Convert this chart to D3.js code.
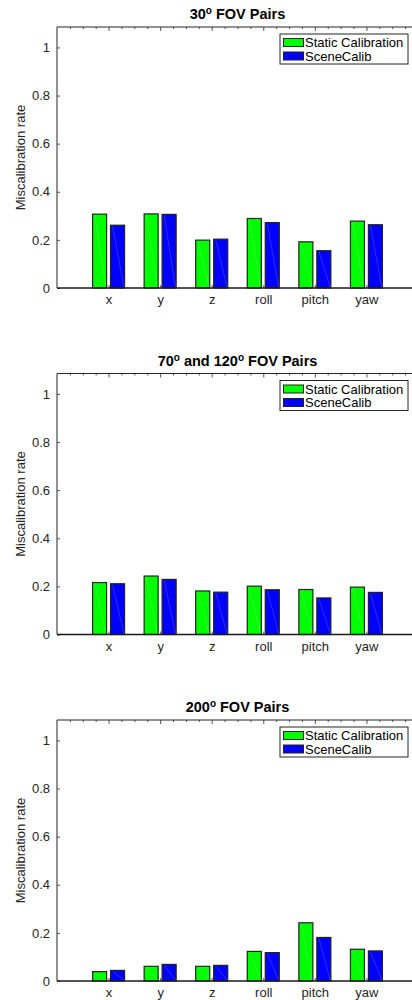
<!DOCTYPE html>
<meta charset="utf-8">
<style>
body { margin: 0; background: #fff; }
text { font-family: "Liberation Sans", Arial, sans-serif; fill: #262626; }
.title { font-weight: bold; fill: #000; }
.tick line { stroke: #555; }
</style>
<svg width="412" height="1000"></svg>
<script src="https://d3js.org/d3.v7.min.js"></script>
<script>

// categories on the x axis
var categories = ["x", "y", "z", "roll", "pitch", "yaw"];
var seriesNames = ["Static Calibration", "SceneCalib"];
var seriesColors = ["#00ff00", "#0000ff"];
var yTicks = [0, 0.2, 0.4, 0.6, 0.8, 1];

// titles: [before sup, sup, between, sup, after]
var titles = [
  ["30", "o", " FOV Pairs"],
  ["70", "o", " and 120", "o", " FOV Pairs"],
  ["200", "o", " FOV Pairs"]
];

var static30 = [0.307, 0.308, 0.199, 0.289, 0.192, 0.278];
var scene30  = [0.261, 0.306, 0.203, 0.272, 0.155, 0.263];

var static70 = [0.216, 0.243, 0.181, 0.201, 0.187, 0.197];
var scene70  = [0.211, 0.229, 0.176, 0.186, 0.152, 0.175];

var static200 = [0.039, 0.061, 0.061, 0.123, 0.242, 0.132];
var scene200  = [0.044, 0.069, 0.065, 0.118, 0.181, 0.125];

var panels = [
  { title: titles[0], values: [static30, scene30] },
  { title: titles[1], values: [static70, scene70] },
  { title: titles[2], values: [static200, scene200] }
];

var svg = d3.select("svg");
svg.append("rect").attr("width", 412).attr("height", 1000).attr("fill", "#fff");

var panelTops = [27, 373.5, 720],
    plotH = 261;

var x = d3.scaleLinear().domain([0, 7]).range([57, 418]);
var x1 = d3.scaleBand().domain(seriesNames).range([-16, 16]).paddingInner(0.22);

panels.forEach(function(p, pi) {
  var top = panelTops[pi];
  var y = d3.scaleLinear().domain([0, 1.085]).range([top + plotH, top]);
  var g = svg.append("g");

  // title
  var t = g.append("text").attr("class", "title")
      .attr("x", (x(0) + x(7)) / 2).attr("y", top - 8)
      .attr("text-anchor", "middle").style("font-size", "14.5px");
  p.title.forEach(function(s, i) {
    if (i % 2 === 1) {
      t.append("tspan").attr("dy", -5).style("font-size", "10px").text(s);
    } else {
      t.append("tspan").attr("dy", i === 0 ? 0 : 5).text(s);
    }
  });

  // bars
  var rows = categories.map(function(c, i) {
    return seriesNames.map(function(s, j) { return { cat: i + 1, series: s, j: j, v: p.values[j][i] }; });
  });
  var grp = g.selectAll(".grp").data(rows).enter().append("g")
      .attr("transform", function(d) { return "translate(" + x(d[0].cat) + ",0)"; });
  grp.selectAll("rect").data(function(d) { return d; }).enter().append("rect")
      .attr("x", function(d) { return x1(d.series); })
      .attr("width", x1.bandwidth())
      .attr("y", function(d) { return y(d.v); })
      .attr("height", function(d) { return y(0) - y(d.v); })
      .attr("fill", function(d) { return seriesColors[d.j]; })
      .attr("stroke", "#222").attr("stroke-width", 1.2);
  // faint diagonal rendering seams seen in the original
  grp.selectAll("line.seam").data(function(d) { return d; }).enter().append("line")
      .attr("class", "seam")
      .attr("x1", function(d) { return x1(d.series) + x1.bandwidth() * 0.15; })
      .attr("x2", function(d) { return x1(d.series) + x1.bandwidth() * 0.95; })
      .attr("y1", function(d) { return y(d.v) + 1; })
      .attr("y2", y(0) - 1)
      .attr("stroke", "#fff").attr("stroke-opacity", 0.3).attr("stroke-width", 0.6);

  // axes
  var yAxis = d3.axisLeft(y).tickValues(yTicks).tickSize(-3).tickSizeOuter(0).tickPadding(7)
      .tickFormat(function(d) { return d3.format("~g")(d); });
  var ya = g.append("g").attr("transform", "translate(" + x(0) + ",0)").call(yAxis);
  ya.selectAll("text").style("font-size", "13px");
  ya.select(".domain").remove();

  var xAxis = d3.axisBottom(x).tickValues([1, 2, 3, 4, 5, 6]).tickSize(-3).tickSizeOuter(0).tickPadding(7)
      .tickFormat(function(d) { return categories[d - 1]; });
  var xa = g.append("g").attr("transform", "translate(0," + y(0) + ")").call(xAxis);
  xa.selectAll("text").style("font-size", "13px");
  xa.select(".domain").remove();

  var minor = d3.range(0, 7.01, 0.25).filter(function(v) { return v % 1 !== 0; });
  var topAxis = d3.axisTop(x).tickValues([1, 2, 3, 4, 5, 6]).tickSize(-4).tickSizeOuter(0).tickFormat("");
  var ta = g.append("g").attr("transform", "translate(0," + top + ")").call(topAxis);
  ta.select(".domain").remove();
  var taMinor = d3.axisTop(x).tickValues(minor).tickSize(-2).tickSizeOuter(0).tickFormat("");
  var tm = g.append("g").attr("transform", "translate(0," + top + ")").call(taMinor);
  tm.select(".domain").remove();
  tm.selectAll("line").attr("stroke", "#888");

  // spines
  g.append("line").attr("x1", x(0)).attr("x2", x(7)).attr("y1", top).attr("y2", top)
      .attr("stroke", "#262626").attr("stroke-width", 1);
  g.append("line").attr("x1", x(0)).attr("x2", x(0)).attr("y1", top).attr("y2", y(0))
      .attr("stroke", "#262626").attr("stroke-width", 1);
  g.append("line").attr("x1", x(0)).attr("x2", x(7)).attr("y1", y(0)).attr("y2", y(0))
      .attr("stroke", "#1a1a1a").attr("stroke-width", 1.3);

  // y label
  g.append("text")
      .attr("transform", "translate(25," + (top + plotH / 2) + ") rotate(-90)")
      .attr("text-anchor", "middle").style("font-size", "13px")
      .text("Miscalibration rate");

  // legend
  var lg = g.append("g").attr("transform", "translate(280," + (top + 7) + ")");
  lg.append("rect").attr("width", 128).attr("height", 30)
      .attr("fill", "#fff").attr("stroke", "#262626").attr("stroke-width", 1);
  seriesNames.forEach(function(s, j) {
    var cy = 8.5 + j * 13.5;
    lg.append("rect").attr("x", 3.5).attr("y", cy - 4).attr("width", 20).attr("height", 8)
        .attr("fill", seriesColors[j]).attr("stroke", "#222").attr("stroke-width", 1);
    lg.append("text").attr("x", 25).attr("y", cy + 4.5).style("font-size", "13px").style("fill", "#000").text(s);
  });
});

</script>
